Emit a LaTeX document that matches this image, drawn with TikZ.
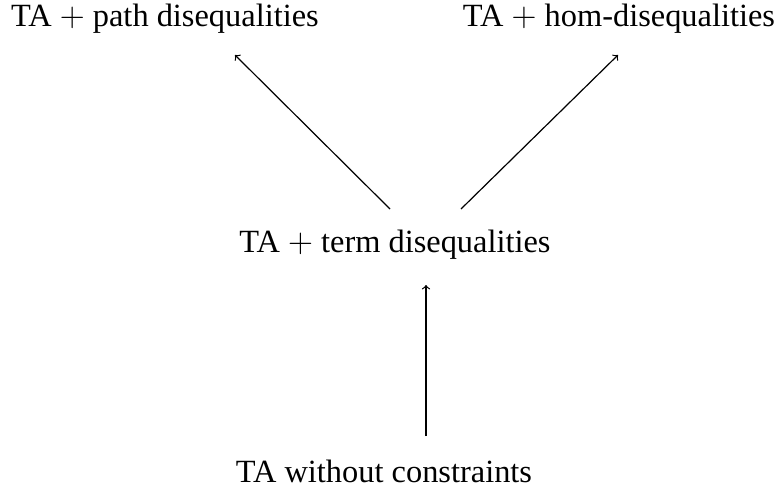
\documentclass[tikz,border=0pt]{standalone}
\usepackage{fontspec}
\setmainfont{Liberation Serif}
\begin{document}
\begin{tikzpicture}[x=1pt,y=1pt,
  lbl/.style={inner sep=0pt,anchor=base,font=\fontsize{16.2}{20}\selectfont},
  arr/.style={->,line width=0.6pt}]
\useasboundingbox (0,0) rectangle (388.5,247);
\node[lbl] (p) at (82.5,233.5) {TA $+$ path disequalities};
\node[lbl] (h) at (309.5,233.5) {TA $+$ hom-disequalities};
\node[lbl] (t) at (197.5,121) {TA $+$ term disequalities};
\node[lbl] (w) at (192,6) {TA without constraints};
\draw[arr] ([shift={(-2.5,21.5)}]t.base) -- ([shift={(35,-14)}]p.base);
\draw[arr] ([shift={(33,21.5)}]t.base) -- ([shift={(-0.5,-14)}]h.base);
\draw[arr] ([shift={(21,23)}]w.base) -- ([shift={(15.5,-16.5)}]t.base);
\end{tikzpicture}
\end{document}
